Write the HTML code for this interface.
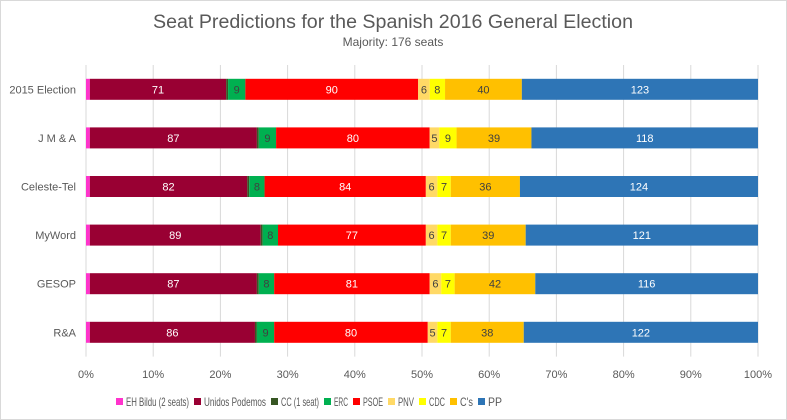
<!DOCTYPE html>
<html><head><meta charset="utf-8"><style>
body{margin:0;background:#fff;}
svg{display:block;font-family:"Liberation Sans",sans-serif;}
</style></head><body>
<svg id="chart" width="787" height="420" viewBox="0 0 787 420">
<rect x="0.5" y="0.5" width="786" height="419" fill="#fff" stroke="#d9d9d9"/>
<text x="393" y="28" text-anchor="middle" font-size="19" fill="#595959" textLength="480" lengthAdjust="spacingAndGlyphs">Seat Predictions for the Spanish 2016 General Election</text>
<text x="393" y="46" text-anchor="middle" font-size="12" fill="#595959">Majority: 176 seats</text>
<g id="grid"></g><g id="bars"></g><g id="axes"></g><g id="legend"></g>
</svg>
<script>
const categories = ["2015 Election","J M & A","Celeste-Tel","MyWord","GESOP","R&A"];
const parties = ["EH Bildu (2 seats)","Unidos Podemos","CC (1 seat)","ERC","PSOE","PNV","CDC","C's","PP"];
const ehBildu = [2,2,2,2,2,2];
const podemos = [71,87,82,89,87,86];
const cc = [1,1,1,1,1,1];
const erc = [9,9,8,8,8,9];
const psoe = [90,80,84,77,81,80];
const pnv = [6,5,6,6,6,5];
const cdc = [8,9,7,7,7,7];
const cs = [40,39,36,39,42,38];
const pp = [123,118,124,121,116,122];
const tickLabels = ["0%","10%","20%","30%","40%","50%","60%","70%","80%","90%","100%"];
const series = [ehBildu,podemos,cc,erc,psoe,pnv,cdc,cs,pp];
const colors = ["#ff33cc","#990033","#375623","#00b050","#ff0000","#ffd966","#ffff00","#ffc000","#2e75b6"];
const textColors = [null,"#fff",null,"#404040","#fff","#404040","#404040","#404040","#fff"];
const showLabel = [false,true,false,true,true,true,true,true,true];
const NS="http://www.w3.org/2000/svg";
const x0=86,x1=758,yTop=65,band=48.6,barH=21;
function xScale(f){return x0+(x1-x0)*f;}
function yScale(i){return yTop+band*i+band/2;}
function mk(tag,attrs,parent){const e=document.createElementNS(NS,tag);for(const k in attrs)e.setAttribute(k,attrs[k]);parent.appendChild(e);return e;}
const grid=document.getElementById('grid'),barsG=document.getElementById('bars'),axes=document.getElementById('axes'),legend=document.getElementById('legend');
tickLabels.forEach((t,i)=>{
  const x=xScale(i/(tickLabels.length-1));
  const l=mk('line',{x1:x,x2:x,y1:yTop,y2:yTop+band*categories.length,stroke:'#d9d9d9'},grid);
  
  
  const tx=mk('text',{x:x,y:378,'text-anchor':'middle','font-size':11,fill:'#595959'},axes);
  tx.textContent=t;
  
  
});
categories.forEach((c,i)=>{
  const yc=yScale(i);
  const lab=mk('text',{x:76,y:yc+4,'text-anchor':'end','font-size':11,fill:'#595959'},axes);
  lab.textContent=c;
  
  
  let total=0;series.forEach(s=>total+=s[i]);
  let cum=0;
  series.forEach((s,j)=>{
    const v=s[i];
    const xa=xScale(cum/total),xb=xScale((cum+v)/total);
    const r=mk('rect',{x:xa,y:yc-barH/2,width:xb-xa,height:barH,fill:colors[j]},barsG);
    
    
    if(showLabel[j]){
      const t=mk('text',{x:(xa+xb)/2,y:yc+4,'text-anchor':'middle','font-size':11,fill:textColors[j]},barsG);
      t.textContent=v;
      
      
    }
    cum+=v;
  });
});
const legX=[116,194,271,324,353,388,419,450,478,507];
parties.forEach((p,j)=>{
  const g=mk('g',{},legend);
  
  
  mk('rect',{x:legX[j],y:398,width:7,height:7,fill:colors[j]},g);
  const t=mk('text',{x:legX[j]+10,y:406,'font-size':12,fill:'#595959',textLength:legX[j+1]-legX[j]-15,lengthAdjust:'spacingAndGlyphs'},g);
  t.textContent=p;
});
</script>
</body></html>
